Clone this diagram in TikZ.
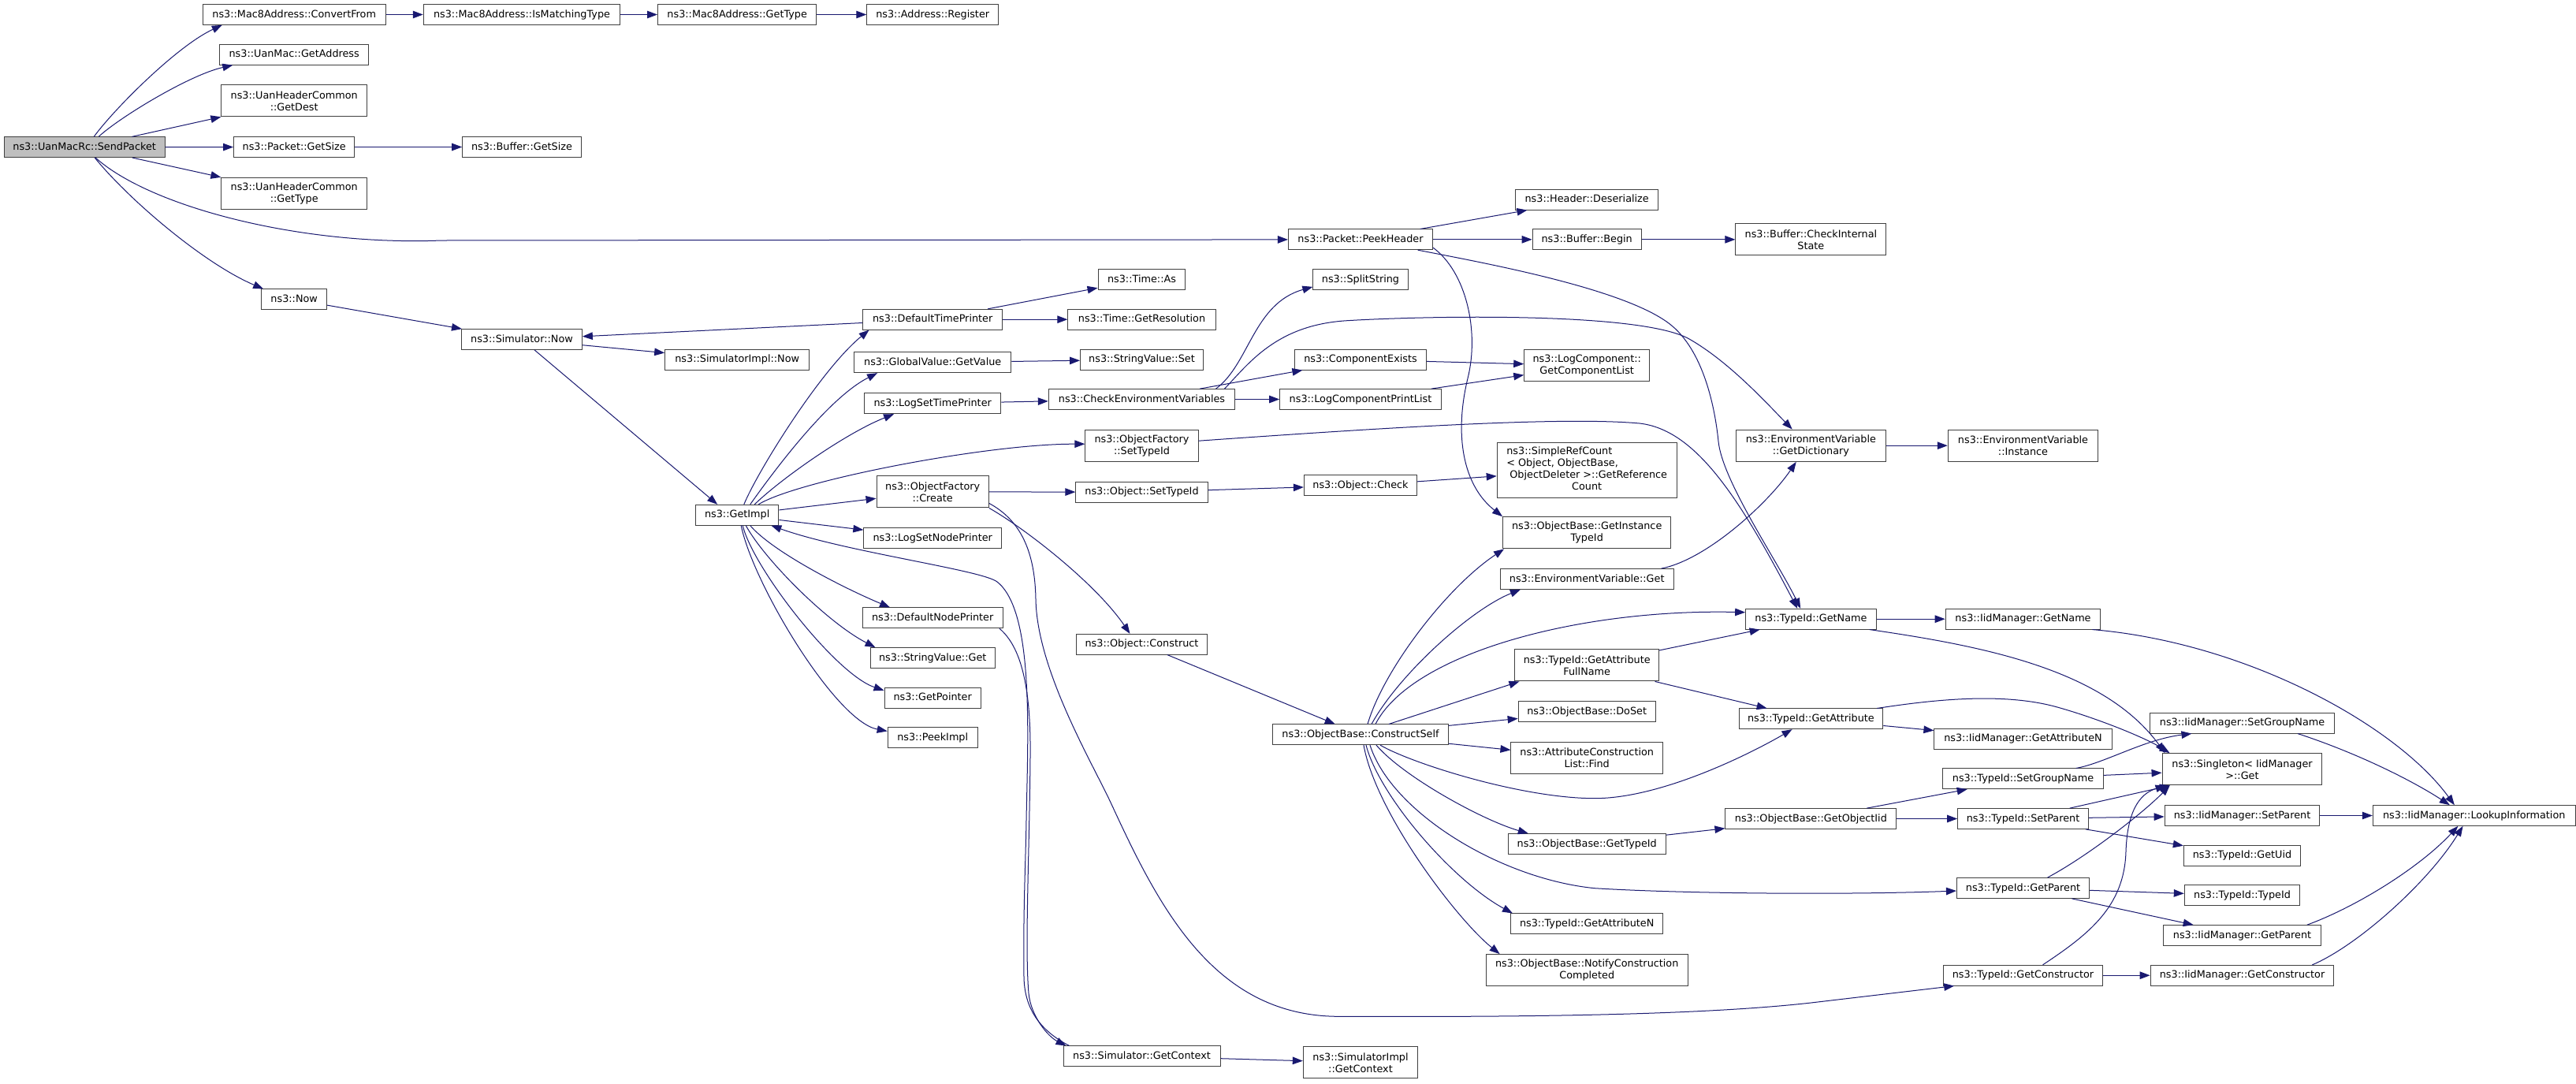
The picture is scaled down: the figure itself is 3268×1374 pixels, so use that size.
\documentclass[tikz,border=0pt]{standalone}
\usepackage{fontspec}
\setmainfont{DejaVu Sans}
\usetikzlibrary{arrows.meta}
\definecolor{edgeblue}{RGB}{25,25,112}
\definecolor{rootgray}{RGB}{191,191,191}
\newcommand\nodefont{\fontsize{12.8pt}{15pt}\selectfont}
\tikzset{
 fn/.style={draw=black!75, line width=1pt, fill=white, inner sep=0pt, minimum height=25.7pt, align=center, font=\nodefont, text height=9.6pt, text depth=2.4pt},
 two/.style={minimum height=40.3pt, text height=, text depth=},
 four/.style={minimum height=70pt, text height=, text depth=},
 wd/.style={minimum width=#1pt},
 ed/.style={draw=edgeblue, line width=1pt, -{Triangle[length=13pt,width=9.5pt]}},
}
\begin{document}
\begin{tikzpicture}[x=1pt,y=-1pt]
\fill[white] (0,0) rectangle (3268,1374);
\useasboundingbox (0,0) rectangle (3268,1374);

\node[fn,wd=204,fill=rootgray] (sp) at (107.2,186.7) {ns3::UanMacRc::SendPacket};
\node[fn,wd=231.7] (cf) at (373.2,18.5) {ns3::Mac8Address::ConvertFrom};
\node[fn,wd=188.8] (ga) at (373.2,69.3) {ns3::UanMac::GetAddress};
\node[fn,two,wd=184.6] (gd) at (373.2,127.8) {ns3::UanHeaderCommon\\::GetDest};
\node[fn,wd=153.3] (ps) at (373.2,186.5) {ns3::Packet::GetSize};
\node[fn,two,wd=184.6] (ugt) at (373.2,245.2) {ns3::UanHeaderCommon\\::GetType};
\node[fn,wd=83] (now) at (373.2,379.8) {ns3::Now};
\node[fn,wd=249.5] (imt) at (662,18.5) {ns3::Mac8Address::IsMatchingType};
\node[fn,wd=150.6] (bgs) at (662,186.5) {ns3::Buffer::GetSize};
\node[fn,wd=152.7] (snow) at (662,430.5) {ns3::Simulator::Now};
\node[fn,wd=201.4] (mgt) at (935.2,18.5) {ns3::Mac8Address::GetType};
\node[fn,wd=183] (sinow) at (935.2,456.2) {ns3::SimulatorImpl::Now};
\node[fn,wd=105.2] (gi) at (935.2,653.2) {ns3::GetImpl};
\node[fn,wd=166.8] (ar) at (1183.2,18.5) {ns3::Address::Register};
\node[fn,wd=177.3] (dtp) at (1183.2,405.2) {ns3::DefaultTimePrinter};
\node[fn,wd=199.2] (gv) at (1183.2,459.8) {ns3::GlobalValue::GetValue};
\node[fn,wd=173.2] (lstp) at (1183.2,511.8) {ns3::LogSetTimePrinter};
\node[fn,two,wd=142.3] (ofc) at (1183.2,623.8) {ns3::ObjectFactory\\::Create};
\node[fn,wd=174.7] (lsnp) at (1183.2,682.5) {ns3::LogSetNodePrinter};
\node[fn,wd=178.3] (dnp) at (1183.2,783.8) {ns3::DefaultNodePrinter};
\node[fn,wd=158.4] (svg) at (1183.2,834.5) {ns3::StringValue::Get};
\node[fn,wd=122.4] (gp) at (1183.2,885.2) {ns3::GetPointer};
\node[fn,wd=114] (pi) at (1183.2,935.8) {ns3::PeekImpl};
\node[fn,wd=110.9] (ta) at (1448.5,354.5) {ns3::Time::As};
\node[fn,wd=187.3] (tgr) at (1448.5,405.2) {ns3::Time::GetResolution};
\node[fn,wd=155.9] (svs) at (1448.5,456.2) {ns3::StringValue::Set};
\node[fn,wd=236.4] (cev) at (1448.5,506.5) {ns3::CheckEnvironmentVariables};
\node[fn,two,wd=143.3] (ofs) at (1448.5,565.2) {ns3::ObjectFactory\\::SetTypeId};
\node[fn,wd=167.3] (ost) at (1448.5,624.2) {ns3::Object::SetTypeId};
\node[fn,wd=165.3] (oc) at (1448.5,817.2) {ns3::Object::Construct};
\node[fn,wd=199] (sgc) at (1448.5,1339.8) {ns3::Simulator::GetContext};
\node[fn,wd=183.1] (ph) at (1726,303.8) {ns3::Packet::PeekHeader};
\node[fn,wd=120.3] (ss) at (1726,354.5) {ns3::SplitString};
\node[fn,wd=166.8] (ce) at (1726,456.2) {ns3::ComponentExists};
\node[fn,wd=204.6] (lcpl) at (1726,506.5) {ns3::LogComponentPrintList};
\node[fn,wd=143.3] (och) at (1726,615.8) {ns3::Object::Check};
\node[fn,wd=222.8] (cs) at (1726,931.8) {ns3::ObjectBase::ConstructSelf};
\node[fn,two,wd=145.4] (sigc) at (1726,1347.8) {ns3::SimulatorImpl\\::GetContext};
\node[fn,wd=181.4] (hd) at (2013.2,253.2) {ns3::Header::Deserialize};
\node[fn,wd=138.1] (bb) at (2013.2,303.8) {ns3::Buffer::Begin};
\node[fn,two,wd=159] (gcl) at (2013.2,463.8) {ns3::LogComponent::\\GetComponentList};
\node[fn,four,wd=228] (src) at (2013.2,596) {\begin{tabular}{@{}l@{}}ns3::SimpleRefCount\\{<} Object, ObjectBase,\\\ ObjectDeleter {>}::GetReference\\\multicolumn{1}{@{}c@{}}{Count}\end{tabular}};
\node[fn,two,wd=213.4] (git) at (2013.2,675.8) {ns3::ObjectBase::GetInstance\\TypeId};
\node[fn,wd=219.6] (evg) at (2013.2,734.5) {ns3::EnvironmentVariable::Get};
\node[fn,two,wd=182.6] (gafn) at (2013.2,843.8) {ns3::TypeId::GetAttribute\\FullName};
\node[fn,wd=174.1] (dos) at (2013.2,902.5) {ns3::ObjectBase::DoSet};
\node[fn,two,wd=192.5] (acl) at (2013.2,961.2) {ns3::AttributeConstruction\\List::Find};
\node[fn,wd=199.8] (obgt) at (2013.2,1070.5) {ns3::ObjectBase::GetTypeId};
\node[fn,wd=193.5] (tgan) at (2013.2,1171.8) {ns3::TypeId::GetAttributeN};
\node[fn,two,wd=256.2] (ncc) at (2013.2,1230.7) {ns3::ObjectBase::NotifyConstruction\\Completed};
\node[fn,two,wd=191] (bcis) at (2297.4,303.8) {ns3::Buffer::CheckInternal\\State};
\node[fn,two,wd=190.4] (gdic) at (2297.4,565.2) {ns3::EnvironmentVariable\\::GetDictionary};
\node[fn,wd=165.5] (tgn) at (2297.4,785.2) {ns3::TypeId::GetName};
\node[fn,wd=182.7] (tga) at (2297.4,911.8) {ns3::TypeId::GetAttribute};
\node[fn,wd=217] (goi) at (2297.4,1038.5) {ns3::ObjectBase::GetObjectIid};
\node[fn,two,wd=190.5] (evi) at (2566.5,565.2) {ns3::EnvironmentVariable\\::Instance};
\node[fn,wd=196.7] (ign) at (2566.5,785.2) {ns3::IidManager::GetName};
\node[fn,wd=225.2] (igan) at (2566.5,937.2) {ns3::IidManager::GetAttributeN};
\node[fn,wd=203.5] (tsgn) at (2566.5,987.8) {ns3::TypeId::SetGroupName};
\node[fn,wd=165.7] (tsp) at (2566.5,1038.5) {ns3::TypeId::SetParent};
\node[fn,wd=168.1] (tgp) at (2566.5,1126.5) {ns3::TypeId::GetParent};
\node[fn,wd=201.6] (tgc) at (2566.5,1237.2) {ns3::TypeId::GetConstructor};
\node[fn,wd=233.9] (isgn) at (2844.5,917.2) {ns3::IidManager::SetGroupName};
\node[fn,two,wd=202.9] (sg) at (2844.5,975.8) {ns3::Singleton{<} IidManager\\{>}::Get};
\node[fn,wd=196.7] (isp) at (2844.5,1034.5) {ns3::IidManager::SetParent};
\node[fn,wd=148.3] (tuid) at (2844.5,1085.2) {ns3::TypeId::GetUid};
\node[fn,wd=146.4] (ttid) at (2844.5,1135.8) {ns3::TypeId::TypeId};
\node[fn,wd=199.7] (igp) at (2844.5,1186.5) {ns3::IidManager::GetParent};
\node[fn,wd=232.7] (igc) at (2844.5,1237.2) {ns3::IidManager::GetConstructor};
\node[fn,wd=256.8] (lki) at (3138.7,1034.5) {ns3::IidManager::LookupInformation};

% SendPacket
\draw[ed] ([xshift=12pt]sp.north) .. controls (145,138) and (225,58) .. ([xshift=25pt]cf.south west);
\draw[ed] ([xshift=18pt]sp.north) .. controls (150,150) and (240,95) .. ([xshift=17pt]ga.south west);
\draw[ed] (sp) -- (gd);
\draw[ed] (sp) -- (ps);
\draw[ed] (sp) -- (ugt);
\draw[ed] ([xshift=14pt]sp.south) .. controls (190,262) and (380,312) .. (560,305) -- (ph);
\draw[ed] ([xshift=13pt]sp.south) .. controls (165,255) and (260,335) .. ([xshift=3pt]now.north west);
\draw[ed] (cf) -- (imt);
\draw[ed] (imt) -- (mgt);
\draw[ed] (mgt) -- (ar);
\draw[ed] (ps) -- (bgs);
\draw[ed] (now) -- (snow);
\draw[ed] (snow) -- (sinow);
\draw[ed] ([xshift=16pt]snow.south) -- ([xshift=-25pt]gi.north);
\draw[ed] (dtp) -- (snow);
\draw[ed] (dtp) -- (ta);
\draw[ed] (dtp) -- (tgr);

% GetImpl
\draw[ed] ([xshift=8.6pt]gi.north) .. controls (960,600) and (1040,470) .. ([xshift=8.5pt]dtp.south west);
\draw[ed] ([xshift=16.5pt]gi.north) .. controls (980,600) and (1050,505) .. ([xshift=30pt]gv.south west);
\draw[ed] ([xshift=22pt]gi.north) .. controls (990,608) and (1072,550) .. ([xshift=38pt]lstp.south west);
\draw[ed] ([xshift=27pt]gi.north) .. controls (1010,610) and (1250,563) .. ([yshift=2pt]ofs.west);
\draw[ed] (gi) -- (ofc);
\draw[ed] (gi) -- (lsnp);
\draw[ed] ([xshift=16.5pt]gi.south) .. controls (980,700) and (1072,746.7) .. ([xshift=35.5pt]dnp.north west);
\draw[ed] ([xshift=11pt]gi.south) .. controls (970,710) and (1050,790) .. ([xshift=7pt]svg.north west);
\draw[ed] ([xshift=7pt]gi.south) .. controls (955,720) and (1060,855) .. ([yshift=-4pt]gp.north west);
\draw[ed] ([xshift=5pt]gi.south) .. controls (955,740) and (1060,915) .. ([yshift=-5pt]pi.north west);
\draw[ed] (gv) -- (svs);
\draw[ed] (lstp) -- (cev);

% CheckEnvironmentVariables
\draw[ed] ([xshift=-24.7pt]cev.north east) .. controls (1585,462) and (1590,385) .. ([yshift=4pt]ss.south west);
\draw[ed] (cev) -- (ce);
\draw[ed] (cev) -- (lcpl);
\draw[ed] ([xshift=-13.7pt]cev.north east) .. controls (1585,460) and (1620,412) .. (1709,406.7) .. controls (1816,400.3) and (2083,395.8) .. (2143,430) .. controls (2193,458.5) and (2240,510) .. ([xshift=72pt]gdic.north west);
\draw[ed] (ce) -- (gcl);
\draw[ed] (lcpl) -- (gcl);

% ObjectFactory
\draw[ed] ([yshift=6pt]ofs.east) .. controls (1750,543) and (1980,528) .. (2080,537) .. controls (2150,545) and (2205,628) .. ([xshift=66pt]tgn.north west);
\draw[ed] (ofc) -- (ost);
\draw[ed] ([yshift=6pt]ofc.south east) .. controls (1295,660) and (1313,700) .. (1314,760) .. controls (1315.5,850) and (1386,968) .. (1410,1020) .. controls (1470,1150) and (1540,1290) .. (1700,1289.3) .. controls (1900,1290) and (2150,1289) .. (2300,1271.7) -- ([xshift=14pt]tgc.south west);
\draw[ed] (ofc.south east) .. controls (1300,670) and (1390,740) .. ([xshift=-15pt]oc.north);
\draw[ed] (ost) -- (och);
\draw[ed] (och) -- (src);
\draw[ed] (oc) -- (cs);

% Simulator::GetContext
\draw[ed] ([xshift=-5pt]dnp.south east) .. controls (1295,820) and (1308,870) .. (1307,960) .. controls (1306,1080) and (1300,1200) .. (1305,1260) .. controls (1308,1290) and (1330,1315) .. ([xshift=4pt]sgc.north west);
\draw[ed] ([xshift=8pt]sgc.north west) .. controls (1325,1310) and (1300,1285) .. (1299,1240) .. controls (1298,1150) and (1301,1100) .. (1302,1040) .. controls (1304,930) and (1312,775) .. (1265,738) .. controls (1246,723) and (1072,700) .. ([xshift=-10pt]gi.south east);
\draw[ed] (sgc) -- (sigc);

% PeekHeader
\draw[ed] (ph) -- (hd);
\draw[ed] (ph) -- (bb);
\draw[ed] (bb) -- (bcis);
\draw[ed] ([yshift=3pt]ph.south east) .. controls (1860,345) and (1877,420) .. (1862,480) .. controls (1845,550) and (1855,615) .. (git.north west);
\draw[ed] ([xshift=-19.5pt]ph.south east) .. controls (1880,333) and (2057,365) .. (2117,410) .. controls (2162,443.75) and (2176,520) .. (2180,560) .. controls (2185,610) and (2255,712) .. ([xshift=70pt]tgn.north west);
\draw[ed] ([xshift=-16pt]evg.north east) .. controls (2165,710) and (2242.7,638.6) .. ([xshift=77pt]gdic.south west);
\draw[ed] (gdic) -- (evi);

% ConstructSelf
\draw[ed] ([xshift=9pt]cs.north) .. controls (1755,850) and (1835,745) .. ([xshift=2pt]git.south west);
\draw[ed] ([xshift=14pt]cs.north) .. controls (1775,855) and (1866,773) .. ([xshift=26pt]evg.south west);
\draw[ed] ([xshift=19pt]cs.north) .. controls (1790,830) and (2000,772) .. ([yshift=8.5pt]tgn.west);
\draw[ed] ([xshift=36pt]cs.north) -- ([xshift=6pt]gafn.south west);
\draw[ed] (cs) -- (dos);
\draw[ed] (cs) -- (acl);
\draw[ed] ([xshift=25pt]cs.south) .. controls (1790,968) and (1930,1012.7) .. (2023,1012.7) .. controls (2110,1012.7) and (2226,953) .. ([xshift=68pt]tga.south west);
\draw[ed] ([xshift=20pt]cs.south) .. controls (1780,985) and (1880,1040) .. ([xshift=26pt]obgt.north west);
\draw[ed] ([xshift=12pt]cs.south) .. controls (1765,1030) and (1903,1114.7) .. (2023,1126.7) .. controls (2143,1134) and (2350,1135) .. ([yshift=-3.5pt]tgp.west);
\draw[ed] ([xshift=7pt]cs.south) .. controls (1750,1010) and (1842.4,1116.7) .. ([xshift=3pt]tgan.north west);
\draw[ed] ([xshift=4pt]cs.south) .. controls (1745,1030) and (1847.5,1165.7) .. ([xshift=18pt]ncc.north west);

% TypeId and IidManager
\draw[ed] (gafn) -- (tgn);
\draw[ed] (gafn) -- (tga);
\draw[ed] (obgt) -- (goi);
\draw[ed] (goi) -- (tsgn);
\draw[ed] (goi) -- (tsp);
\draw[ed] (tgn) -- (ign);
\draw[ed] ([xshift=-9pt]tgn.south east) .. controls (2520,820) and (2670,850) .. ([xshift=4pt]sg.north west);
\draw[ed] (tga) -- (igan);
\draw[ed] ([xshift=-8pt]tga.north east) .. controls (2450,888) and (2540,877.4) .. (2610,897) .. controls (2660,911) and (2720,935) .. ([xshift=10pt]sg.north west);
\draw[ed] ([xshift=-11pt]ign.south east) .. controls (2850,815) and (3040,920) .. ([xshift=104pt]lki.north west);
\draw[ed] ([xshift=-35pt]tsgn.north east) .. controls (2670,968) and (2720,938) .. ([xshift=53.4pt]isgn.south west);
\draw[ed] (tsgn) -- (sg);
\draw[ed] (tsp) -- (sg);
\draw[ed] (tsp) -- (isp);
\draw[ed] (tsp) -- (tuid);
\draw[ed] ([xshift=31pt]tgp.north) .. controls (2650,1085) and (2720,1030) .. ([xshift=10pt]sg.south west);
\draw[ed] (tgp) -- (ttid);
\draw[ed] (tgp) -- (igp);
\draw[ed] ([xshift=25pt]tgc.north) .. controls (2650,1185) and (2695,1150) .. (2697,1080) .. controls (2699,1020) and (2720,1005) .. ([xshift=5pt]sg.south west);
\draw[ed] (tgc) -- (igc);
\draw[ed] ([xshift=-47pt]isgn.south east) .. controls (2990,955) and (3060,990) .. ([xshift=98pt]lki.north west);
\draw[ed] (isp) -- (lki);
\draw[ed] ([xshift=-18pt]igp.north east) .. controls (2990,1150) and (3070,1100) .. ([xshift=108.5pt]lki.south west);
\draw[ed] ([xshift=-28pt]igc.north east) .. controls (2990,1200) and (3080,1120) .. ([xshift=114.7pt]lki.south west);
\end{tikzpicture}
\end{document}
